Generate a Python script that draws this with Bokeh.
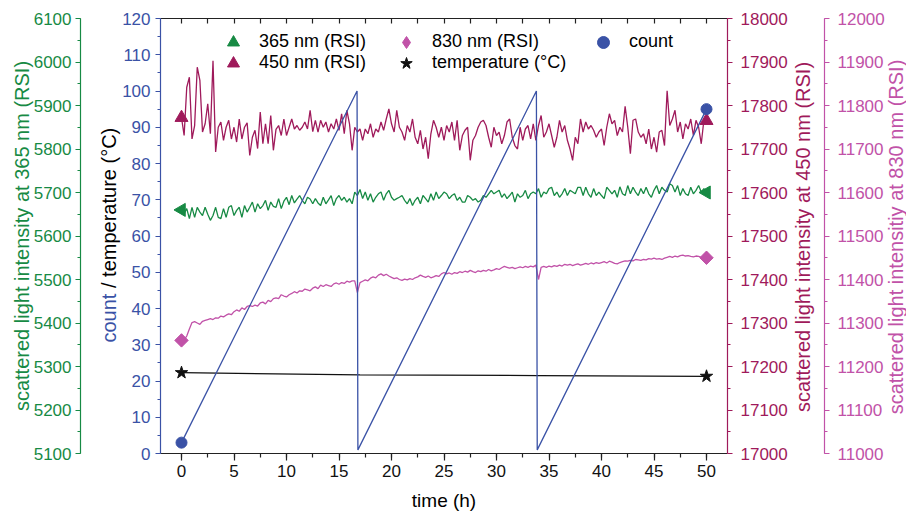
import math
from bokeh.plotting import figure
from bokeh.models import (Range1d, LinearAxis, Legend, LegendItem, SingleIntervalTicker,
                          FixedTicker, Label)
from bokeh.embed import file_html
from bokeh.resources import INLINE

# ---------------- data ----------------
time_h = [i * 0.25 for i in range(201)]

rsi_450 = [
    17772, 17731, 17842, 17865, 17723, 17754, 17888, 17858, 17739, 17758, 17804, 17735, 17903, 17693, 17750, 17762, 17720, 17750, 17766, 17723,
    17750, 17716, 17769, 17723, 17750, 17760, 17685, 17727, 17743, 17701, 17785, 17712, 17758, 17712, 17777, 17697, 17745, 17754, 17731, 17769,
    17731, 17750, 17769, 17746, 17754, 17743, 17750, 17762, 17746, 17789, 17740, 17766, 17739, 17766, 17750, 17762, 17739, 17758, 17746, 17769,
    17743, 17781, 17735, 17789, 17758, 17697, 17750, 17739, 17746, 17720, 17746, 17735, 17758, 17727, 17746, 17739, 17762, 17743, 17769, 17792,
    17758, 17739, 17789, 17750, 17739, 17720, 17754, 17739, 17769, 17727, 17712, 17743, 17700, 17727, 17678, 17735, 17766, 17750, 17727, 17750,
    17720, 17754, 17739, 17762, 17720, 17766, 17697, 17731, 17743, 17750, 17674, 17720, 17731, 17750, 17762, 17766, 17754, 17727, 17704, 17750,
    17731, 17739, 17712, 17731, 17762, 17769, 17727, 17708, 17700, 17750, 17720, 17746, 17754, 17723, 17758, 17720, 17754, 17777, 17727, 17739,
    17758, 17731, 17704, 17727, 17766, 17739, 17754, 17720, 17700, 17674, 17727, 17712, 17769, 17739, 17762, 17746, 17754, 17743, 17727, 17739,
    17746, 17708, 17750, 17781, 17758, 17766, 17731, 17750, 17739, 17798, 17750, 17689, 17766, 17769, 17739, 17727, 17735, 17712, 17746, 17700,
    17727, 17693, 17739, 17743, 17708, 17834, 17754, 17769, 17789, 17739, 17762, 17723, 17758, 17746, 17769, 17731, 17766, 17750, 17712, 17766,
    17765,
]

rsi_365 = [
    5660, 5652, 5663, 5640, 5666, 5643, 5666, 5655, 5647, 5666, 5650, 5636, 5647, 5666, 5643, 5640, 5663, 5643, 5666, 5670,
    5647, 5659, 5666, 5643, 5670, 5655, 5666, 5678, 5655, 5674, 5663, 5670, 5682, 5659, 5678, 5668, 5666, 5686, 5663, 5680,
    5689, 5672, 5693, 5676, 5685, 5693, 5682, 5674, 5689, 5685, 5674, 5686, 5676, 5670, 5689, 5674, 5683, 5693, 5670, 5686,
    5693, 5682, 5689, 5678, 5686, 5674, 5701, 5693, 5707, 5686, 5701, 5682, 5697, 5678, 5689, 5697, 5701, 5682, 5697, 5705,
    5689, 5682, 5686, 5689, 5693, 5682, 5674, 5686, 5670, 5682, 5689, 5674, 5693, 5686, 5678, 5697, 5682, 5701, 5686, 5693,
    5701, 5697, 5686, 5693, 5697, 5682, 5689, 5678, 5678, 5693, 5689, 5682, 5686, 5678, 5682, 5693, 5689, 5697, 5705, 5697,
    5701, 5705, 5689, 5697, 5686, 5693, 5701, 5678, 5697, 5689, 5693, 5705, 5686, 5697, 5701, 5697, 5709, 5689, 5701, 5697,
    5709, 5712, 5693, 5701, 5689, 5697, 5709, 5693, 5705, 5701, 5697, 5712, 5712, 5693, 5712, 5697, 5689, 5709, 5693, 5701,
    5693, 5686, 5712, 5705, 5697, 5705, 5689, 5713, 5697, 5693, 5716, 5697, 5712, 5701, 5693, 5709, 5697, 5712, 5697, 5689,
    5705, 5716, 5697, 5712, 5705, 5701, 5720, 5716, 5701, 5716, 5693, 5709, 5697, 5693, 5712, 5697, 5705, 5716, 5701, 5709,
    5700,
]

rsi_830 = [
    11260, 11262, 11270, 11286, 11301, 11303, 11300, 11297, 11304, 11306, 11308, 11310, 11308, 11312, 11311, 11316, 11314, 11318, 11321, 11319,
    11326, 11330, 11327, 11335, 11331, 11338, 11340, 11338, 11341, 11339, 11346, 11348, 11344, 11352, 11349, 11356, 11358, 11356, 11365, 11362,
    11360, 11365, 11368, 11372, 11369, 11374, 11373, 11378, 11376, 11374, 11380, 11383, 11379, 11387, 11384, 11388, 11386, 11384, 11390, 11392,
    11389, 11393, 11391, 11396, 11394, 11397, 11397, 11370, 11393, 11396, 11399, 11397, 11403, 11406, 11404, 11410, 11413, 11409, 11412, 11408,
    11405, 11402, 11404, 11400, 11398, 11401, 11399, 11402, 11400, 11404, 11406, 11410, 11407, 11405, 11408, 11404, 11406, 11409, 11407, 11413,
    11416, 11413, 11415, 11412, 11416, 11414, 11418, 11416, 11419, 11417, 11421, 11418, 11416, 11420, 11418, 11421, 11419, 11423, 11420, 11422,
    11425, 11423, 11427, 11430, 11428, 11426, 11428, 11425, 11427, 11429, 11427, 11430, 11428, 11431, 11429, 11433, 11400, 11428, 11430, 11428,
    11431, 11429, 11432, 11430, 11433, 11431, 11435, 11433, 11435, 11432, 11434, 11436, 11433, 11435, 11437, 11435, 11438, 11436, 11439, 11437,
    11439, 11441, 11438, 11442, 11440, 11437, 11436, 11439, 11441, 11443, 11442, 11444, 11443, 11446, 11445, 11444, 11446, 11445, 11448, 11447,
    11449, 11447, 11448, 11446, 11449, 11451, 11453, 11451, 11454, 11452, 11455, 11456, 11454, 11455, 11453, 11452, 11454, 11453, 11451, 11452,
    11450,
]

time_count = [0, 16.72, 16.8, 33.8, 33.88, 50]
count = [3, 100, 1, 100, 1, 95]

time_temp = [0, 17, 34, 50]
temperature = [22.3, 21.7, 21.5, 21.3]

x_minor_ticks = [i * 2.5 for i in range(21)]

# axis extents shown by the reference
X_LO, X_HI = -2, 52
BLUE_LIM = (0, 120)
GREEN_LIM = (5100, 6100)
MAROON_LIM = (17000, 18000)
PINK_LIM = (11000, 12000)

# ---------------- layout (pixels) ----------------
W, H = 906, 512
BOX_L, BOX_R, BOX_T, BOX_B = 160, 727, 18, 453   # plot box drawn by the axes
GREEN_AX_PX, PINK_AX_PX = 80, 824

FONT = "Liberation Sans"
BLUE = "#3a52a6"
GREEN = "#178a44"
MAROON = "#9f1a5b"
PINK = "#c152a8"
BLACK = "#111111"
TICK_FS = "17px"
TITLE_FS = "20px"

px_per_h = (BOX_R - BOX_L) / (X_HI - X_LO)
x_range = Range1d(X_LO - BOX_L / px_per_h, X_HI + (W - BOX_R) / px_per_h)


def y_span(lo, hi):
    per = (hi - lo) / (BOX_B - BOX_T)
    return Range1d(lo - (H - BOX_B) * per, hi + BOX_T * per)


def x_at(px):
    return x_range.start + px / px_per_h


p = figure(width=W, height=H, output_backend="svg", toolbar_location=None,
           x_range=x_range, y_range=y_span(*BLUE_LIM), min_border=0)
p.extra_y_ranges = {"g": y_span(*GREEN_LIM), "m": y_span(*MAROON_LIM), "k": y_span(*PINK_LIM)}
p.grid.visible = False
p.outline_line_color = None
p.background_fill_color = "white"
p.border_fill_color = "white"


def style_axis(ax, color, label_color=None, tick_out=5, minor_out=3, tick_in=0, minor_in=0):
    ax.axis_line_color = color
    ax.axis_line_width = 1.2
    ax.major_tick_line_color = color
    ax.minor_tick_line_color = color
    ax.major_tick_line_width = 1.2
    ax.minor_tick_line_width = 1.2
    ax.major_tick_out = tick_out
    ax.major_tick_in = tick_in
    ax.minor_tick_out = minor_out
    ax.minor_tick_in = minor_in
    ax.major_label_text_color = label_color or color
    ax.major_label_text_font = FONT
    ax.major_label_text_font_size = TICK_FS


# bottom time axis
xa = p.xaxis[0]
xa.ticker = SingleIntervalTicker(interval=5, num_minor_ticks=2)
style_axis(xa, "#222222", "#111111", tick_out=7, minor_out=4)
xa.fixed_location = BLUE_LIM[0]
xa.bounds = (X_LO, X_HI)
xa.major_label_standoff = 4

# top mirror axis: ticks only, pointing inward
ta = LinearAxis(ticker=FixedTicker(ticks=[], minor_ticks=x_minor_ticks))
style_axis(ta, "#222222", tick_out=0, minor_out=0, minor_in=5)
ta.fixed_location = BLUE_LIM[1]
ta.bounds = (X_LO, X_HI)
p.add_layout(ta, "above")

# blue count / temperature axis
ba = p.yaxis[0]
ba.ticker = SingleIntervalTicker(interval=10, num_minor_ticks=2)
style_axis(ba, BLUE, tick_out=5, minor_out=3)
ba.fixed_location = X_LO
ba.bounds = BLUE_LIM
ba.major_label_standoff = 5

# green 365 nm axis
ga = LinearAxis(y_range_name="g", ticker=SingleIntervalTicker(interval=100, num_minor_ticks=2))
style_axis(ga, GREEN, tick_out=5, minor_out=3)
ga.fixed_location = x_at(GREEN_AX_PX)
ga.bounds = GREEN_LIM
ga.major_label_standoff = 4
p.add_layout(ga, "left")

# maroon 450 nm axis
ma = LinearAxis(y_range_name="m", ticker=SingleIntervalTicker(interval=100, num_minor_ticks=2))
style_axis(ma, MAROON, tick_out=5, minor_out=3)
ma.fixed_location = X_HI
ma.bounds = MAROON_LIM
ma.major_label_standoff = 8
p.add_layout(ma, "right")

# pink 830 nm axis
ka = LinearAxis(y_range_name="k", ticker=SingleIntervalTicker(interval=100, num_minor_ticks=2))
style_axis(ka, PINK, tick_out=5, minor_out=3)
ka.fixed_location = x_at(PINK_AX_PX)
ka.bounds = PINK_LIM
ka.major_label_standoff = 8
p.add_layout(ka, "right")


# ---------------- axis titles ----------------
def title(text, color, px, py, align="center", angle=math.pi / 2, size=TITLE_FS):
    p.add_layout(Label(x=px, y=H - py, x_units="screen", y_units="screen", angle=angle,
                       text=text, text_color=color, text_font=FONT, text_font_size=size,
                       text_align=align, text_baseline="middle"))


box_mid = (BOX_T + BOX_B) / 2
title("scattered light intensity at 365 nm (RSI)", GREEN, 21, box_mid)
title("count", BLUE, 108, 342, align="left")
title("/ temperature (°C)", "black", 108, 342 - 54.5, align="left")
title("scattered light intensity at 450 nm (RSI)", MAROON, 802, box_mid + 1)
title("scattered light intensitiy at 830 nm (RSI)", PINK, 895, box_mid + 1)
title("time (h)", "black", (BOX_L + BOX_R) / 2, 500, angle=0, size="19px")

# ---------------- lines ----------------
LW = 1.3
p.line(time_h, rsi_830, y_range_name="k", line_color=PINK, line_width=LW)
p.line(time_h, rsi_365, y_range_name="g", line_color=GREEN, line_width=LW)
p.line(time_h, rsi_450, y_range_name="m", line_color=MAROON, line_width=LW)
p.line(time_temp, temperature, line_color=BLACK, line_width=LW)
p.line(time_count, count, line_color=BLUE, line_width=LW)


# ---------------- end markers ----------------
def ends(xs, ys):
    return [xs[0], xs[-1]], [ys[0], ys[-1]]


x, y = ends(time_h, rsi_365)
r365 = p.scatter(x, y, y_range_name="g", marker="triangle", angle=math.pi / 2, size=13,
                 fill_color=GREEN, line_color=GREEN)
x, y = ends(time_h, rsi_450)
r450 = p.scatter(x, y, y_range_name="m", marker="triangle", size=13,
                 fill_color=MAROON, line_color=MAROON)
x, y = ends(time_h, rsi_830)
r830_leg = p.scatter(x, y, y_range_name="k", marker="diamond", size=12,
                     fill_color=PINK, line_color=PINK)
p.scatter(x, y, y_range_name="k", marker="square", angle=math.pi / 4, size=9.5,
          fill_color=PINK, line_color=PINK)
x, y = ends(time_temp, temperature)
rtemp = p.scatter(x, y, marker="star", size=13, fill_color=BLACK, line_color=BLACK)
x, y = ends(time_count, count)
rcount = p.scatter(x, y, marker="circle", size=11, fill_color=BLUE, line_color=BLUE)

# ---------------- legends ----------------
leg_kw = dict(glyph_width=30, glyph_height=30, label_height=20, label_standoff=11, spacing=0,
              padding=0, margin=0, border_line_color=None, background_fill_alpha=0,
              label_text_font=FONT, label_text_font_size="18px", label_text_color="black")
row1_bottom, row2_bottom = H - 56.7, H - 77.7
legend_specs = [
    ("365 nm (RSI)", r365, (218, row1_bottom)),
    ("450 nm (RSI)", r450, (218, row2_bottom)),
    ("830 nm (RSI)", r830_leg, (391, row1_bottom)),
    ("temperature (°C)", rtemp, (391, row2_bottom)),
    ("count", rcount, (588, row1_bottom)),
]
for lab, rend, loc in legend_specs:
    p.add_layout(Legend(items=[LegendItem(label=lab, renderers=[rend])], location=loc, **leg_kw))

open("out.html", "w").write(file_html(p, INLINE))
